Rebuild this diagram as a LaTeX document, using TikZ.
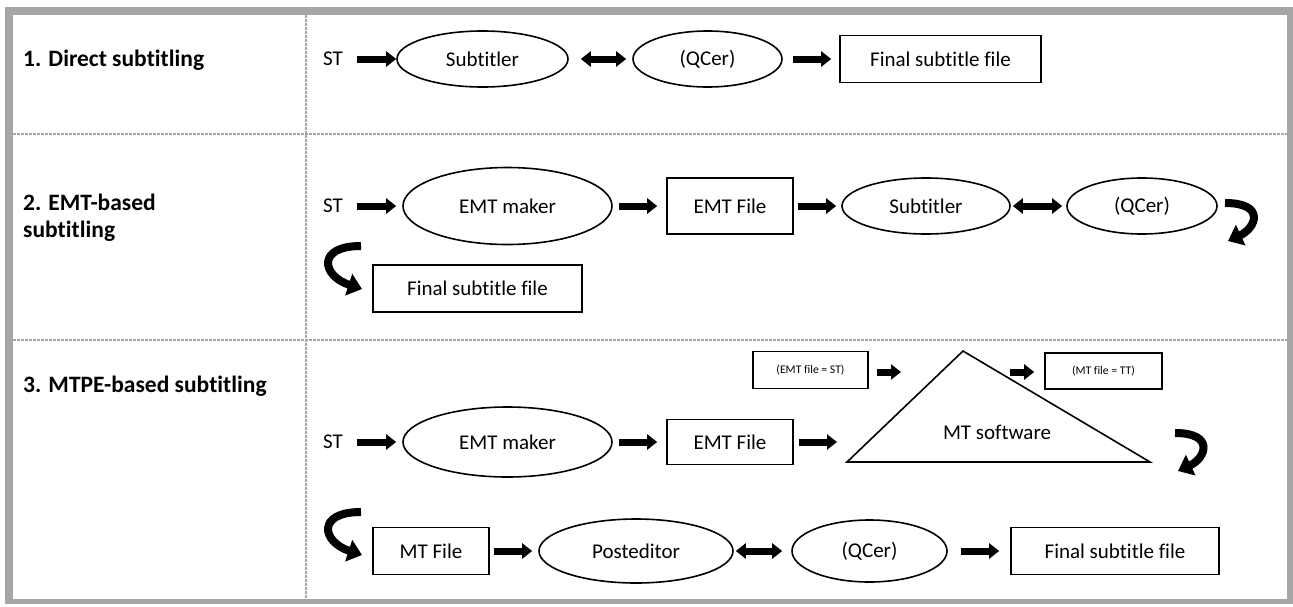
\documentclass[tikz,border=0pt]{standalone}
\usepackage{fontspec}
\setmainfont{Carlito}[Ligatures={NoCommon}]
\usetikzlibrary{arrows.meta,shapes.geometric}
\definecolor{tblgray}{HTML}{A6A6A6}
\tikzset{
 body/.style={font=\fontsize{21}{25}\selectfont},
 lbl/.style={font=\bfseries\fontsize{23.5}{27}\selectfont, anchor=west, inner sep=0pt, align=left},
 oval/.style={ellipse, draw, line width=1.6pt, inner sep=0pt, body},
 boxn/.style={rectangle, draw, line width=1.6pt, inner sep=0pt, body},
 smallbox/.style={rectangle, draw, line width=1.6pt, inner sep=0pt, font=\fontsize{11.7}{14}\selectfont},
 plain/.style={inner sep=0pt, body},
 blk/.style={line width=7pt, -{Triangle[width=15pt,length=10pt]}},
 dblk/.style={line width=7pt, {Triangle[width=15pt,length=10pt]}-{Triangle[width=15pt,length=10pt]}},
 crv/.style={line width=8pt, -{Triangle[width=22pt,length=14pt]}},
 tabline/.style={draw=tblgray, line width=1.2pt, dash pattern=on 3pt off 1pt},
}
\begin{document}
\begin{tikzpicture}[x=1pt,y=-1pt]
\useasboundingbox (0,0) rectangle (1293,606);
\fill[white] (0,0) rectangle (1293,606);
% table frame
\draw[tabline] (306,15) -- (306,599);
\draw[tabline] (13,134) -- (1287,134);
\draw[tabline] (13,340) -- (1287,340);
\fill[tblgray] (5,7) rectangle (1293,15);
\fill[tblgray] (5,7) rectangle (13,604);
\fill[tblgray] (1287,7) rectangle (1293,604);
\fill[tblgray] (5,599) rectangle (1293,604);
% labels
\node[lbl] (l1) at (23,60) {1. Direct subtitling};
\node[lbl] (l2) at (23,218) {2. EMT-based\\subtitling};
\node[lbl] (l3) at (23,386) {3. MTPE-based subtitling};
% row 1
\node[plain] (st1) at (333,59) {ST};
\node[oval, minimum width=171pt, minimum height=56pt] (sub1) at (482.5,59) {Subtitler};
\node[oval, minimum width=149pt, minimum height=56pt] (q1) at (707.5,59) {(QCer)};
\node[boxn, minimum width=201pt, minimum height=47pt] (fin1) at (940.5,59) {Final subtitle file};
\draw[blk, shorten <=14pt] (st1) -- (sub1);
\draw[dblk, shorten <=12pt, shorten >=6pt] (sub1) -- (q1);
\draw[blk, shorten <=10pt, shorten >=8pt] (q1) -- (fin1);
% row 2
\node[plain] (st2) at (333,206) {ST};
\node[oval, minimum width=209pt, minimum height=77pt] (emt2) at (507.5,206) {EMT maker};
\node[boxn, minimum width=126pt, minimum height=56pt] (ef2) at (730,206) {EMT File};
\node[oval, minimum width=168pt, minimum height=56pt] (sub2) at (926,206) {Subtitler};
\node[oval, minimum width=150pt, minimum height=56pt] (q2) at (1142,206) {(QCer)};
\node[boxn, minimum width=209pt, minimum height=47pt] (fin2) at (477.5,288.5) {Final subtitle file};
\draw[blk, shorten <=14pt, shorten >=6pt] (st2) -- (emt2);
\draw[blk, shorten <=6pt, shorten >=9pt] (emt2) -- (ef2);
\draw[blk, shorten <=4pt, shorten >=5pt] (ef2) -- (sub2);
\draw[dblk, shorten <=2pt, shorten >=4pt] (sub2) -- (q2);
\coordinate (c2a) at (1225,203);
\coordinate (c2b) at (1228,241);
\draw[crv] (c2a) .. controls (1266,203) and (1256,228) .. (c2b);
\coordinate (c2c) at (361,246);
\coordinate (c2d) at (362,289);
\draw[crv] (c2c) .. controls (316,246) and (322,276) .. (c2d);
% row 3 upper
\node[smallbox, minimum width=115pt, minimum height=37pt] (es) at (810.5,370) {(EMT file = ST)};
\node[smallbox, minimum width=117pt, minimum height=36pt] (mtt) at (1103.5,371) {(MT file = TT)};
\coordinate (esout) at (901,372);
\coordinate (mtin) at (1010,372);
\draw[blk, shorten <=8pt] (es.east |- esout) -- (esout);
\draw[blk, shorten >=10pt] (mtin) -- (mtin -| mtt.west);
\coordinate (tA) at (963,351);
\coordinate (tB) at (847,462);
\coordinate (tC) at (1150,462);
\draw[line width=1.6pt, line join=miter] (tA) -- (tB) -- (tC) -- cycle;
\node[plain] (mts) at (997,432) {MT software};
% row 3
\node[plain] (st3) at (333,442) {ST};
\node[oval, minimum width=209pt, minimum height=70pt] (emt3) at (507.5,442) {EMT maker};
\node[boxn, minimum width=126pt, minimum height=45pt] (ef3) at (730,442) {EMT File};
\coordinate (triin) at (837,442);
\draw[blk, shorten <=14pt, shorten >=6pt] (st3) -- (emt3);
\draw[blk, shorten <=6pt, shorten >=9pt] (emt3) -- (ef3);
\draw[blk, shorten <=5pt] (ef3) -- (triin);
\coordinate (c3a) at (1175,433);
\coordinate (c3b) at (1178,471);
\draw[crv] (c3a) .. controls (1215,433) and (1206,458) .. (c3b);
\coordinate (c3c) at (361,512);
\coordinate (c3d) at (362,555);
\draw[crv] (c3c) .. controls (316,512) and (322,542) .. (c3d);
% row 3 lower
\node[boxn, minimum width=116pt, minimum height=47pt] (mtf) at (431,551) {MT File};
\node[oval, minimum width=194pt, minimum height=64pt] (post) at (636,551) {Posteditor};
\node[oval, minimum width=155pt, minimum height=62pt] (q3) at (869.5,551) {(QCer)};
\node[boxn, minimum width=208pt, minimum height=47pt] (fin3) at (1115,551) {Final subtitle file};
\draw[blk, shorten <=4pt, shorten >=6pt] (mtf) -- (post);
\draw[dblk, shorten <=2pt, shorten >=9pt] (post) -- (q3);
\draw[blk, shorten <=13pt, shorten >=11pt] (q3) -- (fin3);
\end{tikzpicture}
\end{document}
